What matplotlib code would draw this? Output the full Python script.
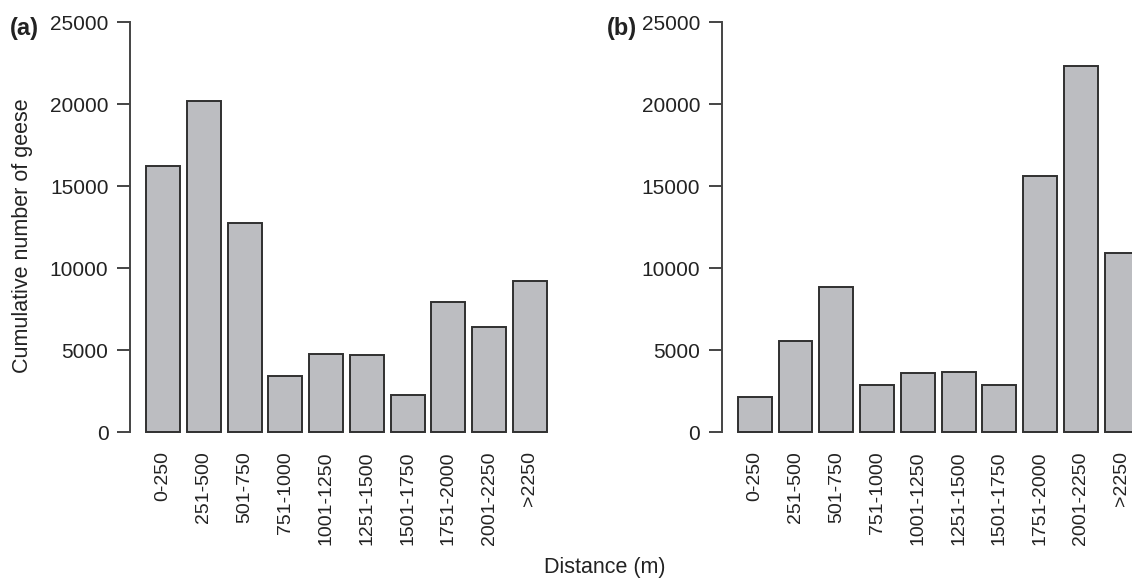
import matplotlib
matplotlib.use("Agg")
import matplotlib.pyplot as plt
import numpy as np

plt.rcParams['font.family'] = ['Liberation Sans', 'DejaVu Sans']

# distance classes (m)
classes = ['0-250', '251-500', '501-750', '751-1000', '1001-1250',
           '1251-1500', '1501-1750', '1751-2000', '2001-2250', '>2250']

# cumulative number of geese per distance class
geese_a = [16250, 20220, 12770, 3430, 4790, 4710, 2230, 7950, 6380, 9230]
geese_b = [2110, 5530, 8860, 2850, 3590, 3670, 2850, 15620, 22330, 10920]

yticks = [0, 5000, 10000, 15000, 20000, 25000]

bar_col = '#bcbdc1'
edge_col = '#303030'
txt_col = '#222222'

fig = plt.figure(figsize=(11.32, 5.80), dpi=100)

# R barplot style positions: width 1, space 0.2
xpos = 0.7 + 1.2 * np.arange(len(classes))


def draw_panel(ax, vals):
    ax.bar(xpos, vals, width=1.0, color=bar_col, edgecolor=edge_col, linewidth=1.4)
    ax.set_xlim(-0.272, 12.472)
    ax.set_ylim(-1000, 26000)
    for s in ['top', 'right', 'bottom']:
        ax.spines[s].set_visible(False)
    ax.spines['left'].set_bounds(0, 25000)
    ax.spines['left'].set_color('#444444')
    ax.spines['left'].set_linewidth(1.4)
    ax.set_yticks(yticks)
    ax.set_yticklabels([str(v) for v in yticks])
    ax.tick_params(axis='y', length=9.5, width=1.4, color='#444444', pad=6,
                   labelsize=15, labelcolor=txt_col)
    ax.set_xticks(xpos)
    ax.set_xticklabels(classes, rotation=90)
    ax.tick_params(axis='x', length=0, pad=2, labelsize=14, labelcolor=txt_col)
    ax.patch.set_visible(False)


ax1 = fig.add_axes([130 / 1132, 1 - 448.4 / 580, 433 / 1132, 442.5 / 580])
ax2 = fig.add_axes([721.7 / 1132, 1 - 448.4 / 580, 433 / 1132, 442.5 / 580])
draw_panel(ax1, geese_a)
draw_panel(ax2, geese_b)

ax1.set_ylabel('Cumulative number of geese', fontsize=15.5, color=txt_col)
ax1.yaxis.set_label_coords(-0.225, 0.48)

fig.text(10 / 1132, 1 - 28 / 580, '(a)', fontsize=17, fontweight='bold',
         color=txt_col, ha='left', va='center')
fig.text(607 / 1132, 1 - 28 / 580, '(b)', fontsize=17, fontweight='bold',
         color=txt_col, ha='left', va='center')
fig.text(605 / 1132, 1 - 567 / 580, 'Distance (m)', fontsize=15.5,
         color=txt_col, ha='center', va='center')

fig.savefig('out.png', dpi=100)
